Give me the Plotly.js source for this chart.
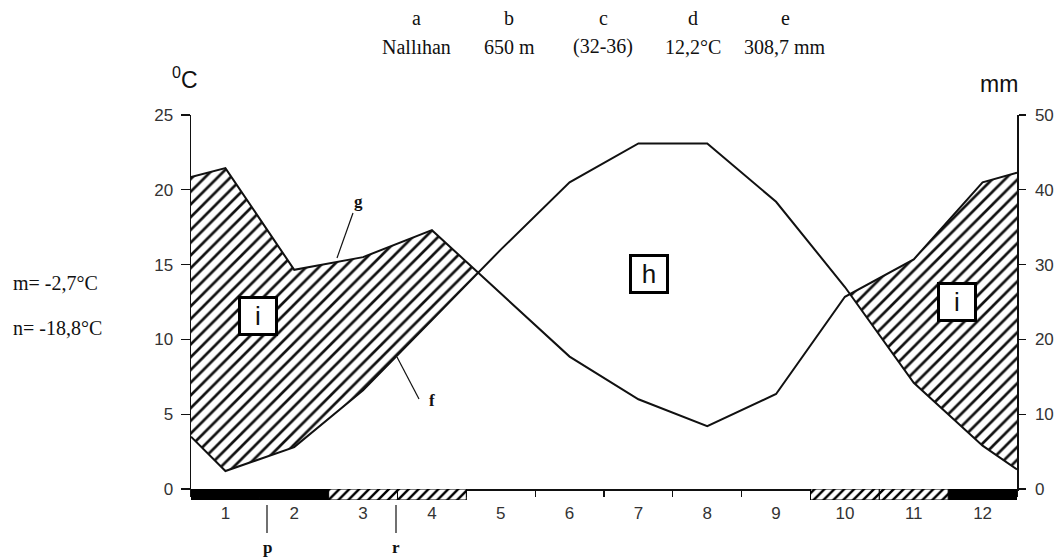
<!DOCTYPE html>
<html>
<head>
<meta charset="utf-8">
<script src="https://cdn.plot.ly/plotly-3.0.1.min.js"></script>
<style>
html, body { margin: 0; padding: 0; background: #fff; }
#chart { width: 1062px; height: 560px; }
</style>
</head>
<body>
<div id="chart"></div>
<script>
// monthly means, Nallıhan
var months = [1, 2, 3, 4, 5, 6, 7, 8, 9, 10, 11, 12];
var monthLabels = ['1', '2', '3', '4', '5', '6', '7', '8', '9', '10', '11', '12'];
var tempC = [1.2, 2.8, 6.6, 11.3, 16.0, 20.5, 23.1, 23.1, 19.2, 13.5, 7.1, 2.9];
var precipMm = [42.9, 29.3, 31.0, 34.6, 26.1, 17.7, 12.0, 8.4, 12.7, 25.7, 30.7, 41.0];
// values where the curves meet the left / right axis
var tempEdge = [3.5, 1.3];
var precipEdge = [41.7, 42.3];
// frost strip under the axis
var frostMonths = [1, 2, 12];          // p
var lateFrostMonths = [3, 4, 10, 11];  // r
// header
var headerKeys = ['a', 'b', 'c', 'd', 'e'];
var headerVals = ['Nallıhan', '650 m', '(32-36)', '12,2°C', '308,7 mm'];
var extremes = ['m= -2,7°C', 'n= -18,8°C'];

var xs = [months[0] - 0.5].concat(months, [months[months.length - 1] + 0.5]);
var t = [tempEdge[0]].concat(tempC, [tempEdge[1]]);
var pmm = [precipEdge[0]].concat(precipMm, [precipEdge[1]]);
var p = pmm.map(function(v) { return v / 2; }); // 10 C = 20 mm

// humid parts (precip above temperature) -> closed polygons
var humid = [];
var cur = null;
for (var i = 0; i < xs.length; i++) {
    var d = p[i] - t[i];
    if (i > 0) {
        var d0 = p[i - 1] - t[i - 1];
        if ((d0 > 0) !== (d > 0)) {
            var f = d0 / (d0 - d);
            var cx = xs[i - 1] + f * (xs[i] - xs[i - 1]);
            var cy = t[i - 1] + f * (t[i] - t[i - 1]);
            if (cur) { cur.top.push([cx, cy]); humid.push(cur); cur = null; }
            else cur = {top: [[cx, cy]], bot: [[cx, cy]]};
        }
    }
    if (d > 0) {
        if (!cur) cur = {top: [], bot: []};
        cur.top.push([xs[i], p[i]]);
        cur.bot.push([xs[i], t[i]]);
    }
}
if (cur) humid.push(cur);

var hatch = {shape: '/', fgcolor: '#111', bgcolor: '#fff', size: 9, solidity: 0.3};

var data = [];
humid.forEach(function(h) {
    var pts = h.top.concat(h.bot.slice().reverse());
    data.push({
        x: pts.map(function(q) { return q[0]; }),
        y: pts.map(function(q) { return q[1]; }),
        mode: 'lines', line: {width: 0}, fill: 'toself',
        fillcolor: '#fff', fillpattern: hatch,
        hoverinfo: 'skip', showlegend: false
    });
});

data.push({x: xs, y: t, mode: 'lines', line: {color: '#111', width: 2}, showlegend: false});
data.push({x: xs, y: pmm, yaxis: 'y2', mode: 'lines', line: {color: '#111', width: 2}, showlegend: false});

data.push({
    type: 'bar', x: frostMonths, y: frostMonths.map(function() { return 1; }),
    yaxis: 'y3', width: 1, marker: {color: '#000', line: {color: '#000', width: 1}},
    showlegend: false
});
data.push({
    type: 'bar', x: lateFrostMonths, y: lateFrostMonths.map(function() { return 1; }),
    yaxis: 'y3', width: 1,
    marker: {color: '#fff', pattern: {shape: '/', fgcolor: '#000', bgcolor: '#fff', size: 7, solidity: 0.35},
             line: {color: '#000', width: 1}},
    showlegend: false
});

// pixel -> paper helpers (plot area 191..1017 x 115..500)
function px(x) { return (x - 191) / 826; }
function py(y) { return (500 - y) / 385; }

var serif = 'Liberation Serif, Times New Roman, serif';
var sans = 'Liberation Sans, Arial, sans-serif';

function txt(x, y, s, font, xa) {
    return {xref: 'paper', yref: 'paper', x: px(x), y: py(y), text: s, showarrow: false,
            xanchor: xa || 'center', yanchor: 'middle', font: font};
}
var serifFont = {family: serif, size: 20, color: '#111'};

var ann = [];
var hx = [416, 509, 603, 693, 785];
headerKeys.forEach(function(k, j) {
    ann.push(txt(hx[j], 18, k, serifFont));
    ann.push(txt(hx[j], 47, headerVals[j], serifFont));
});
ann.push(txt(11, 283, extremes[0], serifFont, 'left'));
ann.push(txt(11, 328, extremes[1], serifFont, 'left'));
ann.push(txt(185, 78, '<sup>0</sup>C', {family: sans, size: 23, color: '#111'}));
ann.push(txt(999, 84, 'mm', {family: sans, size: 23, color: '#111'}));

function boxLabel(x, y, s) {
    var a = txt(x, y, s, {family: sans, size: 26, color: '#111'});
    a.bgcolor = '#fff';
    a.bordercolor = '#000';
    a.borderwidth = 3;
    a.width = 32;
    a.height = 32;
    return a;
}
ann.push(boxLabel(649, 274, 'h'));
ann.push(boxLabel(258, 316, 'i'));
ann.push(boxLabel(957, 302, 'i'));

var boldFont = {family: serif, size: 17, color: '#111'};
ann.push(txt(358, 201, '<b>g</b>', boldFont));
ann.push(txt(432, 400, '<b>f</b>', boldFont));
ann.push(txt(267, 547, '<b>p</b>', boldFont));
ann.push(txt(396, 547, '<b>r</b>', boldFont));

function lead(x0, y0, x1, y1) {
    return {type: 'line', xref: 'paper', yref: 'paper', x0: px(x0), y0: py(y0), x1: px(x1), y1: py(y1),
            line: {color: '#111', width: 1.2}};
}
var shapes = [
    lead(353, 213, 337, 258),
    lead(397, 357, 419, 399),
    lead(267, 505, 267, 533),
    lead(396, 505, 396, 533)
];

var stripFrac = 11 / 385;
var axisFont = {family: sans, size: 17, color: '#333'};

var layout = {
    width: 1062, height: 560,
    margin: {l: 191, r: 45, t: 115, b: 60},
    paper_bgcolor: '#fff', plot_bgcolor: 'rgba(0,0,0,0)',
    showlegend: false, barmode: 'overlay', bargap: 0,
    xaxis: {
        range: [0.5, 12.5], anchor: 'y',
        tickmode: 'array', tickvals: months, ticktext: monthLabels,
        ticks: '', ticklabelstandoff: 8, tickfont: axisFont,
        minor: {tickmode: 'linear', tick0: 0.5, dtick: 1, ticks: 'outside', ticklen: 6, tickcolor: '#111', tickwidth: 1.2},
        showline: true, linecolor: '#111', linewidth: 1.5,
        showgrid: false, zeroline: false, fixedrange: true
    },
    xaxis2: {
        range: [0.5, 12.5], overlaying: 'x', anchor: 'y',
        tickmode: 'linear', tick0: 1.5, dtick: 1, ticks: 'inside', ticklen: 6,
        tickcolor: '#111', tickwidth: 1.2, showticklabels: false,
        showline: false, showgrid: false, zeroline: false
    },
    yaxis: {
        range: [0, 25], domain: [stripFrac, 1], anchor: 'x',
        tickmode: 'linear', tick0: 0, dtick: 5, ticks: 'outside', ticklen: 9,
        tickcolor: '#111', tickwidth: 1.2, tickfont: axisFont, ticklabelstandoff: 4,
        showline: true, linecolor: '#111', linewidth: 1.5,
        showgrid: false, zeroline: false
    },
    yaxis2: {
        range: [0, 50], overlaying: 'y', side: 'right', anchor: 'x',
        tickmode: 'linear', tick0: 0, dtick: 10, ticks: 'outside', ticklen: 7,
        tickcolor: '#111', tickwidth: 1.2, tickfont: axisFont, ticklabelstandoff: 6,
        showline: true, linecolor: '#111', linewidth: 1.5,
        showgrid: false, zeroline: false
    },
    yaxis3: {range: [0, 1], domain: [0, stripFrac], anchor: 'x', visible: false},
    yaxis4: {
        range: [0, 50], overlaying: 'y', side: 'right', anchor: 'x',
        tickmode: 'linear', tick0: 0, dtick: 10, ticks: 'inside', ticklen: 7,
        tickcolor: '#111', tickwidth: 1.2, showticklabels: false,
        showline: false, showgrid: false, zeroline: false
    },
    annotations: ann,
    shapes: shapes
};

Plotly.newPlot('chart', data, layout, {displayModeBar: false, staticPlot: true});
</script>
</body>
</html>
